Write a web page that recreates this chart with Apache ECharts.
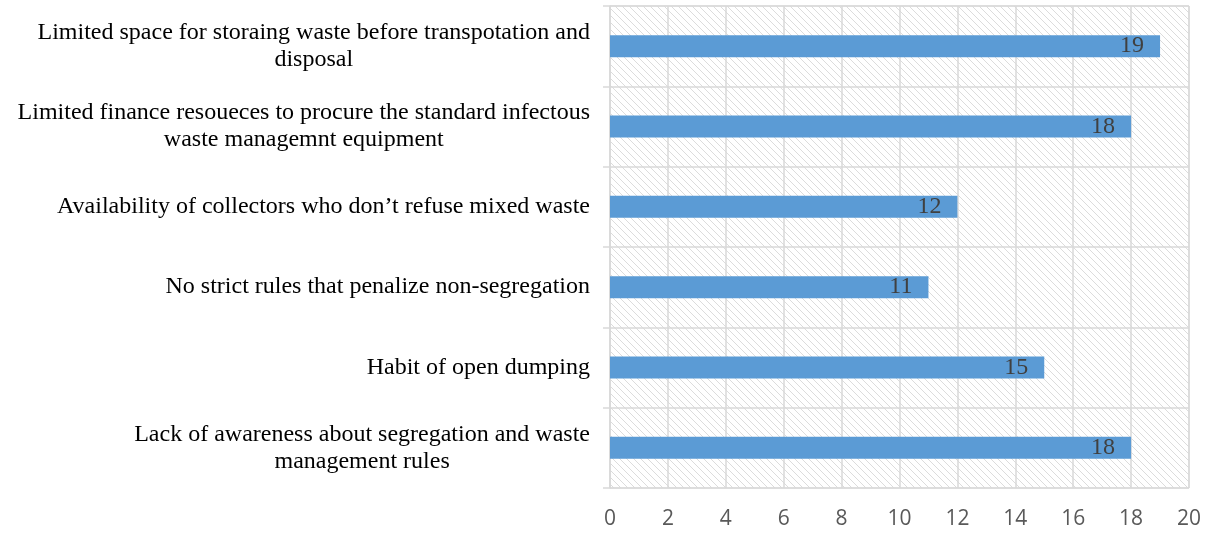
<!DOCTYPE html>
<html>
<head>
<meta charset="utf-8">
<script src="https://cdn.jsdelivr.net/npm/echarts@6/dist/echarts.min.js"></script>
<style>
  html, body { margin: 0; padding: 0; background: #ffffff; }
  #chart { width: 1210px; height: 534px; }
</style>
</head>
<body>
<div id="chart"></div>
<script>
// Barriers to waste segregation, listed top to bottom
const categories = [
  'Limited space for storaing waste before transpotation and\ndisposal',
  'Limited finance resoueces to procure the standard infectous\nwaste managemnt equipment',
  'Availability of collectors who don\u2019t refuse mixed waste',
  'No strict rules that penalize non-segregation',
  'Habit of open dumping',
  'Lack of awareness about segregation and waste\nmanagement rules'
];
const counts = [19, 18, 12, 11, 15, 18];
const xTicks = [0, 2, 4, 6, 8, 10, 12, 14, 16, 18, 20];

// Diagonal hatch fill for the plot area
function hatchPattern() {
  const size = 7;
  const c = document.createElement('canvas');
  c.width = size; c.height = size;
  const g = c.getContext('2d');
  g.fillStyle = '#ffffff';
  g.fillRect(0, 0, size, size);
  g.strokeStyle = '#dcdcdc';
  g.lineWidth = 1;
  g.beginPath();
  g.moveTo(-1, -1); g.lineTo(size + 1, size + 1);
  g.moveTo(-1, size - 1); g.lineTo(1, size + 1);
  g.moveTo(size - 1, -1); g.lineTo(size + 1, 1);
  g.stroke();
  return { image: c, repeat: 'repeat' };
}

const chart = echarts.init(document.getElementById('chart'), null, { renderer: 'canvas' });
const gridColor = '#d9d9d9';

chart.setOption({
  animation: false,
  backgroundColor: '#ffffff',
  grid: {
    left: 610, right: 21, top: 6, bottom: 46,
    show: true,
    backgroundColor: hatchPattern(),
    borderColor: gridColor,
    borderWidth: 1
  },
  xAxis: {
    type: 'value',
    min: xTicks[0],
    max: xTicks[xTicks.length - 1],
    interval: 2,
    axisLine: { show: false },
    axisTick: { show: false },
    splitLine: { show: true, lineStyle: { color: gridColor, width: 1.5 } },
    axisLabel: {
      margin: 21,
      fontFamily: '"Open Sans", sans-serif',
      fontSize: 21,
      color: '#595959'
    }
  },
  yAxis: {
    type: 'category',
    inverse: true,
    data: categories,
    axisLine: { show: true, lineStyle: { color: gridColor, width: 1.5 } },
    axisTick: { show: true, length: 7, lineStyle: { color: gridColor, width: 1.5 } },
    splitLine: { show: true, lineStyle: { color: gridColor, width: 1.5 } },
    axisLabel: {
      margin: 20,
      align: 'right',
      formatter: function (v) {
        return v.split('\n').map(function (s) { return '{c|' + s + '}'; }).join('\n');
      },
      rich: {
        c: {
          align: 'center',
          fontFamily: '"Liberation Serif", "Times New Roman", serif',
          fontSize: 24,
          lineHeight: 27,
          color: '#000000'
        }
      }
    }
  },
  series: [{
    type: 'bar',
    data: counts,
    barWidth: 22,
    itemStyle: { color: '#5b9bd5' },
    label: {
      show: true,
      position: 'insideRight',
      distance: 16,
      fontFamily: '"Liberation Serif", "Times New Roman", serif',
      fontSize: 24,
      color: '#404040'
    }
  }]
});
</script>
</body>
</html>
